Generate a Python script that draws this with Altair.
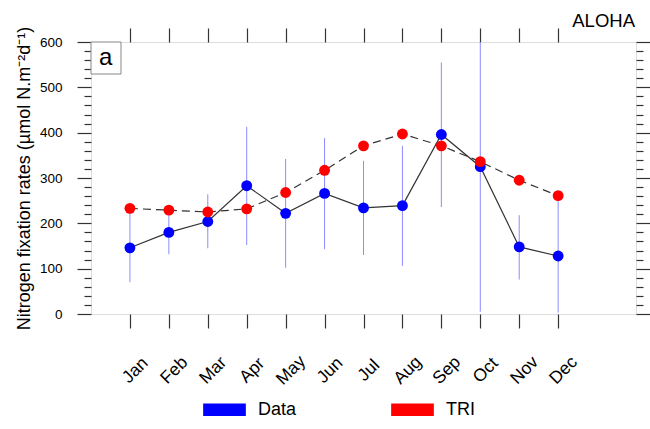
import altair as alt
import pandas as pd

months = ["Jan", "Feb", "Mar", "Apr", "May", "Jun", "Jul", "Aug", "Sep", "Oct", "Nov", "Dec"]
month_num = [1, 2, 3, 4, 5, 6, 7, 8, 9, 10, 11, 12]
data_vals = [146, 180, 204, 283, 222, 266, 234, 239, 396, 325, 148, 128]
tri_vals = [233, 229, 225, 232, 268, 317, 371, 397, 371, 336, 295, 261]
err_lo = [70, 132, 145, 152, 102, 143, 130, 106, 236, 5, 76, 3]
err_hi = [231, 226, 264, 413, 342, 388, 338, 371, 555, 640, 218, 258]
y_ticks = list(range(0, 601, 20))
series_names = ["Data", "TRI"]
series_colors = ["#0000ff", "#ff0000"]

df_err = pd.DataFrame({"m": month_num, "lo": err_lo, "hi": err_hi})
df = pd.DataFrame({
    "m": month_num + month_num,
    "v": data_vals + tri_vals,
    "series": ["Data"] * 12 + ["TRI"] * 12,
})
df_box = pd.DataFrame({"t": ["a"]})

FONT = "Liberation Sans"
TICK = "#333333"
xscale = alt.Scale(domain=[0, 14], nice=False, zero=False)
yscale = alt.Scale(domain=[0, 600], nice=False, zero=True)
month_expr = "[" + ",".join(f"'{m}'" for m in months) + "][datum.value - 1]"
tick_cond = {"condition": {"test": "datum.value % 100 === 0", "value": 14}, "value": 7}

x_bottom = alt.Axis(values=month_num, labelExpr=month_expr, labelAngle=315,
                    labelAlign="center", labelBaseline="middle", labelOffset=5,
                    labelPadding=42, labelFontSize=17.5, labelFont=FONT, labelColor="#000000",
                    tickSize=14, tickColor=TICK, tickWidth=1.2, domain=False, grid=False,
                    title=None, labelOverlap=False, labelFlush=False)
x_top = alt.Axis(orient="top", values=month_num, labels=False, tickSize=14, tickColor=TICK,
                 tickWidth=1.2, domain=False, grid=False, title=None)
y_left = alt.Axis(values=y_ticks, labelExpr="datum.value % 100 === 0 ? datum.label : ''",
                  tickSize=tick_cond, tickColor=TICK, tickWidth=1.2, labelPadding=15,
                  labelFontSize=13.5, labelFont=FONT, labelColor="#000000", domain=False,
                  grid=False, labelOverlap=False, labelFlush=False,
                  title="Nitrogen fixation rates (µmol N.m⁻²d⁻¹)", titleFont=FONT,
                  titleFontSize=18, titleFontWeight="normal", titleColor="#000000",
                  titleAngle=270, titleX=-62, titleY=136, titleAlign="center",
                  titleBaseline="alphabetic")
y_right = alt.Axis(orient="right", values=y_ticks, labels=False, tickSize=tick_cond,
                   tickColor=TICK, tickWidth=1.2, domain=False, grid=False, title=None)

errbars = alt.Chart(df_err).mark_rule(color="#8c8cff", strokeWidth=1, clip=True).encode(
    x=alt.X("m:Q", scale=xscale, axis=x_bottom),
    y=alt.Y("lo:Q", scale=yscale, axis=y_left),
    y2="hi:Q",
)

line_data = alt.Chart(df).transform_filter("datum.series === 'Data'").mark_line(
    color="#333333", strokeWidth=1.2).encode(
    x=alt.X("m:Q", scale=xscale, axis=x_top),
    y=alt.Y("v:Q", scale=yscale, axis=y_right),
)
line_tri = alt.Chart(df).transform_filter("datum.series === 'TRI'").mark_line(
    color="#333333", strokeWidth=1.2, strokeDash=[8, 5]).encode(
    x=alt.X("m:Q", scale=xscale, axis=None),
    y=alt.Y("v:Q", scale=yscale, axis=None),
)

points = alt.Chart(df).mark_circle(size=118, opacity=1).encode(
    x=alt.X("m:Q", scale=xscale, axis=None),
    y=alt.Y("v:Q", scale=yscale, axis=None),
    color=alt.Color("series:N", scale=alt.Scale(domain=series_names, range=series_colors),
                    legend=alt.Legend(orient="none", legendX=112, legendY=346, direction="horizontal",
                                      title=None, symbolType="M-1,-0.297H1V0.297H-1Z",
                                      symbolSize=1823, symbolStrokeWidth=0, symbolOpacity=1,
                                      labelFontSize=18, labelFont=FONT, labelColor="#000000",
                                      labelOffset=12, columnPadding=94, padding=0)),
    order=alt.Order("series:N"),
)

box = alt.Chart(df_box).mark_rect(fill="white", stroke="#888888", strokeWidth=1).encode(
    x=alt.value(0), x2=alt.value(30), y=alt.value(0), y2=alt.value(32)
)
box_text = alt.Chart(df_box).mark_text(fontSize=24, font=FONT, color="#000000",
                                       align="center", baseline="middle").encode(
    x=alt.value(14.7), y=alt.value(15.5), text="t:N"
)
aloha = alt.Chart(df_box).mark_text(text="ALOHA", fontSize=18.5, font=FONT, color="#000000",
                                    align="right", baseline="alphabetic").encode(
    x=alt.value(544), y=alt.value(-15)
)

chart = alt.layer(errbars, line_data, line_tri, points, box, box_text, aloha).resolve_scale(
    x="independent", y="independent"
).properties(
    width=545, height=272,
    autosize=alt.AutoSizeParams(type="none"),
    padding={"left": 91, "top": 42, "right": 14, "bottom": 115},
).configure_view(stroke="#333333", strokeWidth=1.3).configure(font=FONT)

chart.save("out.html", embed_options={"renderer": "svg", "actions": False})
